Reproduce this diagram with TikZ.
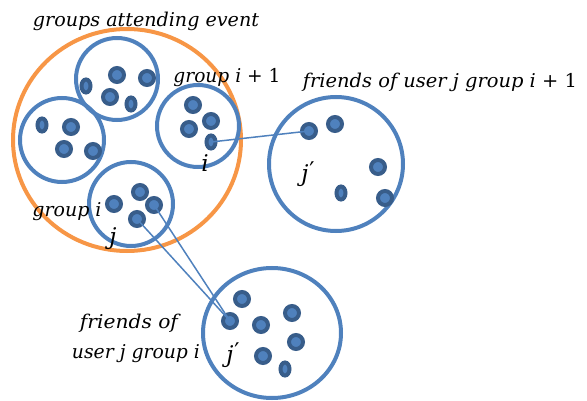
\documentclass[tikz,border=0pt]{standalone}
\usepackage{fontspec}
\usetikzlibrary{shapes.geometric}
\newfontfamily\cmb{DejaVu Serif}
\definecolor{acc}{HTML}{4F81BD}
\definecolor{accdk}{HTML}{385D8A}
\definecolor{org}{HTML}{F79646}
\newcommand{\wtxt}[2]{\resizebox{#1pt}{\height}{#2}}
\newcommand{\jprime}{j\kern1pt\raisebox{3pt}{\upshape ′}}
\tikzset{
  ring/.style={circle, draw=acc, line width=4pt, inner sep=0pt},
  dot/.style={circle, draw=accdk, fill=acc, line width=4pt, minimum size=14pt, inner sep=0pt},
  edot/.style={ellipse, draw=accdk, fill=acc, line width=4pt, minimum width=9pt, minimum height=13pt, inner sep=0pt},
  link/.style={draw=acc, line width=1.5pt},
  lbl/.style={font=\cmb\fontsize{19}{23}\selectfont, inner sep=0pt, anchor=base},
  var/.style={font=\cmb\itshape\fontsize{23}{26}\selectfont, inner sep=0pt, anchor=base}
}
\begin{document}
\begin{tikzpicture}[x=1pt,y=-1pt]
\useasboundingbox (0,0) rectangle (587,401);
% outer event ellipse
\node[ellipse, draw=org, line width=4pt, minimum width=228pt, minimum height=222pt, inner sep=0pt] (event) at (127,140) {};
% groups
\node[ring, minimum size=82pt] (gtop) at (117,79) {};
\node[ring, minimum size=84pt] (gleft) at (62,140) {};
\node[ring, minimum size=82pt] (gnext) at (198,126) {};
\node[ring, minimum size=84pt] (gi) at (131,204) {};
% friend groups
\node[ring, minimum size=134pt] (fnext) at (336,164) {};
\node[ellipse, draw=acc, line width=4pt, minimum width=138pt, minimum height=130pt, inner sep=0pt] (fi) at (272,333) {};
% top group dots
\node[edot] (t1) at (86,86) {};
\node[dot] (t2) at (117,75) {};
\node[dot] (t3) at (147,78) {};
\node[dot] (t4) at (110,97) {};
\node[edot] (t5) at (131,104) {};
% left group dots
\node[edot] (l1) at (42,125) {};
\node[dot] (l2) at (71,127) {};
\node[dot] (l3) at (64,149) {};
\node[dot] (l4) at (93,151) {};
% group i+1 dots
\node[dot] (n1) at (193,105) {};
\node[dot] (n2) at (211,121) {};
\node[dot] (n3) at (189,129) {};
\node[edot] (n4) at (211,142) {};
% group i dots
\node[dot] (g1) at (140,192) {};
\node[dot] (g2) at (114,204) {};
\node[dot] (g3) at (154,205) {};
\node[dot] (g4) at (137,219) {};
% friends of j group i+1
\node[dot] (a1) at (309,131) {};
\node[dot] (a2) at (335,124) {};
\node[dot] (a3) at (378,167) {};
\node[edot] (a4) at (341,193) {};
\node[dot] (a5) at (385,198) {};
% friends of j group i
\node[dot] (b1) at (242,299) {};
\node[dot] (b2) at (230,321) {};
\node[dot] (b3) at (261,325) {};
\node[dot] (b4) at (292,313) {};
\node[dot] (b5) at (296,342) {};
\node[dot] (b6) at (263,356) {};
\node[edot] (b7) at (285,369) {};
% links
\draw[link] (n4.center) -- (a1.center);
\draw[link] (g3.center) -- (b2.center);
\draw[link] (g4.center) -- (b2.center);
% labels
\node[lbl] (tev) at (146,27) {\wtxt{226}{\itshape groups attending event}};
\node[lbl] (tgn) at (227,83) {\wtxt{107}{{\itshape group i} + 1}};
\node[lbl] (tfn) at (440,88) {\wtxt{274}{{\itshape friends of user j group i} + 1}};
\node[lbl] (tgi) at (67,217) {\wtxt{69}{\itshape group i}};
\node[lbl] (tfi1) at (129,328) {\wtxt{98}{\itshape friends of}};
\node[lbl] (tfi2) at (136,358) {\wtxt{128}{\itshape user j group i}};
\node[var] (vi) at (205,172) {i};
\node[var] (vj) at (113,244) {j};
\node[var] (vjn) at (308,182) {\jprime};
\node[var] (vji) at (233,362) {\jprime};
\end{tikzpicture}
\end{document}
